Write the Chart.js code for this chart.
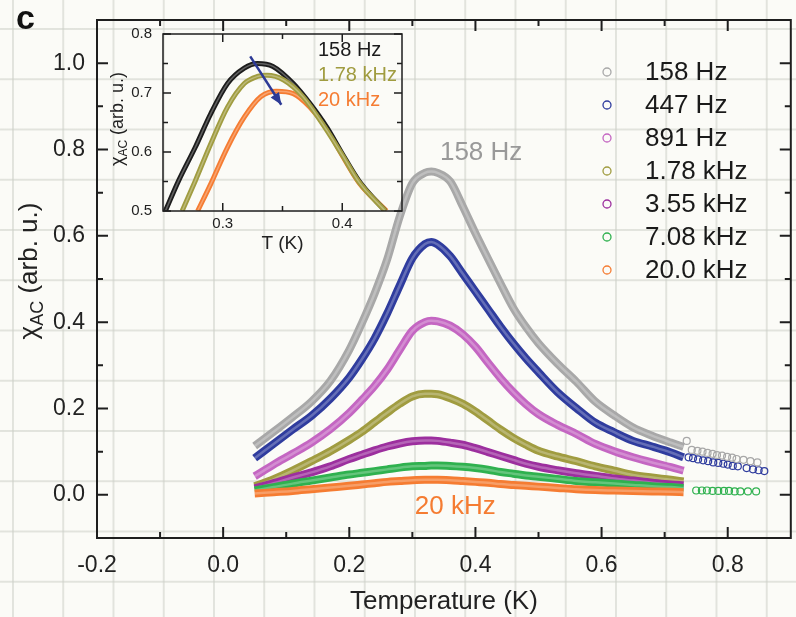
<!DOCTYPE html>
<html>
<head>
<meta charset="utf-8">
<script src="https://cdn.jsdelivr.net/npm/chart.js@4.4.0/dist/chart.umd.min.js"></script>
<style>
  html, body { margin: 0; padding: 0; }
  body {
    width: 796px; height: 617px; position: relative; overflow: hidden;
    background-color: #fbfbf7;
    background-image:
      linear-gradient(to right, rgba(205,208,200,0.55) 2px, transparent 2px),
      linear-gradient(to bottom, rgba(205,208,200,0.55) 2px, transparent 2px);
    background-size: 50.25px 50.25px;
    background-position: 12px 28px;
  }
  #main { position: absolute; left: 0; top: 0; }
  #inset { position: absolute; left: 100px; top: 24px; }
</style>
</head>
<body>
<canvas id="main" width="796" height="617"></canvas>
<canvas id="inset" width="310" height="240"></canvas>
<script>
// ================= DATA =================
// Main panel: temperature grid (K) shared by the dense sweeps
const temps = [0.05, 0.08, 0.11, 0.14, 0.17, 0.20, 0.22, 0.24, 0.26, 0.28, 0.30, 0.32, 0.33, 0.34, 0.36,
               0.38, 0.40, 0.42, 0.44, 0.46, 0.48, 0.50, 0.53, 0.56, 0.59, 0.62, 0.65, 0.68, 0.71, 0.73];

const chi158  = [0.113, 0.146, 0.180, 0.216, 0.264, 0.336, 0.398, 0.466, 0.545, 0.645, 0.722, 0.746, 0.749, 0.746, 0.726,
                 0.668, 0.606, 0.547, 0.489, 0.433, 0.389, 0.351, 0.304, 0.262, 0.216, 0.184, 0.156, 0.137, 0.121, 0.111];
const chi447  = [0.085, 0.118, 0.151, 0.183, 0.223, 0.272, 0.314, 0.362, 0.420, 0.485, 0.548, 0.581, 0.586, 0.580, 0.553,
                 0.512, 0.471, 0.430, 0.389, 0.351, 0.316, 0.284, 0.238, 0.201, 0.167, 0.145, 0.125, 0.112, 0.098, 0.087];
const chi891  = [0.043, 0.070, 0.095, 0.121, 0.152, 0.190, 0.220, 0.252, 0.290, 0.336, 0.380, 0.400, 0.403, 0.402, 0.392,
                 0.372, 0.343, 0.306, 0.270, 0.238, 0.210, 0.187, 0.162, 0.141, 0.118, 0.101, 0.087, 0.075, 0.064, 0.056];
const chi1780 = [0.020, 0.036, 0.056, 0.078, 0.101, 0.127, 0.146, 0.168, 0.190, 0.211, 0.228, 0.234, 0.234, 0.233, 0.224,
                 0.211, 0.193, 0.172, 0.151, 0.132, 0.116, 0.102, 0.089, 0.078, 0.066, 0.056, 0.046, 0.040, 0.035, 0.031];
const chi3550 = [0.015, 0.027, 0.040, 0.052, 0.066, 0.083, 0.093, 0.103, 0.112, 0.119, 0.124, 0.126, 0.126, 0.125, 0.121,
                 0.116, 0.108, 0.099, 0.090, 0.081, 0.072, 0.065, 0.057, 0.050, 0.044, 0.038, 0.033, 0.028, 0.024, 0.022];
const chi7080 = [0.010, 0.018, 0.026, 0.033, 0.040, 0.047, 0.051, 0.055, 0.059, 0.063, 0.066, 0.067, 0.068, 0.068, 0.067,
                 0.065, 0.062, 0.058, 0.053, 0.049, 0.045, 0.042, 0.037, 0.032, 0.029, 0.026, 0.023, 0.020, 0.018, 0.016];
const chi20k  = [0.003, 0.006, 0.009, 0.013, 0.017, 0.021, 0.024, 0.027, 0.030, 0.032, 0.034, 0.035, 0.035, 0.035, 0.034,
                 0.032, 0.030, 0.028, 0.025, 0.023, 0.021, 0.019, 0.016, 0.013, 0.011, 0.010, 0.009, 0.008, 0.007, 0.006];

// Sparse high-temperature points
const tail158T = [0.735, 0.743, 0.752, 0.760, 0.768, 0.776, 0.783, 0.791, 0.799, 0.807, 0.814, 0.825, 0.836, 0.847];
const tail158  = [0.125, 0.104, 0.102, 0.100, 0.097, 0.095, 0.092, 0.091, 0.088, 0.086, 0.083, 0.081, 0.078, 0.075];
const tail447T = [0.738, 0.745, 0.753, 0.761, 0.769, 0.777, 0.785, 0.793, 0.800, 0.808, 0.816, 0.830, 0.840, 0.849, 0.858];
const tail447  = [0.087, 0.085, 0.082, 0.080, 0.078, 0.075, 0.074, 0.072, 0.070, 0.067, 0.066, 0.062, 0.059, 0.057, 0.055];
const tail7080T = [0.750, 0.759, 0.767, 0.776, 0.785, 0.794, 0.802, 0.811, 0.820, 0.832, 0.845];
const tail7080  = [0.010, 0.010, 0.010, 0.009, 0.009, 0.009, 0.009, 0.008, 0.008, 0.008, 0.008];

const seriesLabels = ['158 Hz', '447 Hz', '891 Hz', '1.78 kHz', '3.55 kHz', '7.08 kHz', '20.0 kHz'];
const seriesValues = [chi158, chi447, chi891, chi1780, chi3550, chi7080, chi20k];

// Main axis ticks
const xMajorTicks = [-0.2, 0.0, 0.2, 0.4, 0.6, 0.8];
const xMinorTicks = [-0.1, 0.1, 0.3, 0.5, 0.7];
const yMajorTicks = [0.0, 0.2, 0.4, 0.6, 0.8, 1.0];
const yMinorTicks = [0.1, 0.3, 0.5, 0.7, 0.9];

// Inset panel (zoom on the peaks)
const insetT158  = [0.252, 0.263, 0.277, 0.290, 0.304, 0.318, 0.329, 0.342, 0.359, 0.373, 0.387, 0.400, 0.414, 0.436];
const insetV158  = [0.500, 0.551, 0.608, 0.665, 0.716, 0.742, 0.750, 0.745, 0.716, 0.682, 0.642, 0.597, 0.551, 0.500];
const insetT1780 = [0.266, 0.277, 0.290, 0.304, 0.318, 0.329, 0.337, 0.351, 0.367, 0.386, 0.400, 0.414, 0.436];
const insetV1780 = [0.500, 0.551, 0.614, 0.676, 0.716, 0.728, 0.730, 0.722, 0.694, 0.640, 0.595, 0.549, 0.500];
const insetT20k  = [0.279, 0.290, 0.304, 0.318, 0.332, 0.345, 0.359, 0.373, 0.387, 0.400, 0.414, 0.437];
const insetV20k  = [0.500, 0.546, 0.608, 0.659, 0.694, 0.703, 0.699, 0.676, 0.640, 0.594, 0.548, 0.500];
const insetLabels = ['158 Hz', '1.78 kHz', '20 kHz'];
const arrowT = [0.323, 0.349];
const arrowV = [0.762, 0.680];

const insetXMajor = [0.3, 0.4];
const insetXMinor = [0.35];
const insetYMajor = [0.5, 0.6, 0.7, 0.8];
const insetYMinor = [0.55, 0.65, 0.75];

// ================= STYLE =================
const FONT = "'Liberation Sans', Arial, Helvetica, sans-serif";
Chart.defaults.font.family = FONT;
Chart.defaults.color = '#222';
const seriesColors = ['#a8a8a8', '#2f3c9e', '#c466c2', '#a09c40', '#9c2f9e', '#2fb14f', '#f57c32'];
const insetColors = ['#1c1c1c', '#a09c40', '#f57c32'];
const arrowColor = '#2d3a96';

const toXY = (xs, ys) => xs.map((x, i) => ({ x: x, y: ys[i] }));
const noPad = s => { s.paddingTop = 0; s.paddingBottom = 0; s.paddingLeft = 0; s.paddingRight = 0; };

// ================= PLUGINS =================
// lighter core stroke to imitate bands of overlapping open circles
const hollowBand = {
  id: 'hollowBand',
  afterDatasetDraw(chart, args) {
    const ds = chart.data.datasets[args.index];
    if (!ds.hollow) return;
    const el = args.meta.dataset;
    if (!el) return;
    const saved = el.options;
    el.options = Object.assign({}, saved, { borderColor: ds.hollow, borderWidth: ds.hollowWidth });
    const ctx = chart.ctx;
    ctx.save();
    el.draw(ctx, chart.chartArea);
    ctx.restore();
    el.options = saved;
  }
};

const decor = {
  id: 'decor',
  afterDraw(chart, args, o) {
    const ctx = chart.ctx;
    const { left, right, top, bottom } = chart.chartArea;
    const xs = chart.scales.x, ys = chart.scales.y;
    ctx.save();
    ctx.strokeStyle = '#1e1e1e';
    ctx.lineWidth = o.frameWidth;
    ctx.strokeRect(left, top, right - left, bottom - top);
    ctx.lineWidth = o.tickWidth;
    ctx.beginPath();
    const tx = (v, len) => { const p = xs.getPixelForValue(v); ctx.moveTo(p, bottom); ctx.lineTo(p, bottom - len); ctx.moveTo(p, top); ctx.lineTo(p, top + len); };
    const ty = (v, len) => { const p = ys.getPixelForValue(v); ctx.moveTo(left, p); ctx.lineTo(left + len, p); ctx.moveTo(right, p); ctx.lineTo(right - len, p); };
    o.xMajor.forEach(v => tx(v, o.majorLen)); o.xMinor.forEach(v => tx(v, o.minorLen));
    o.yMajor.forEach(v => ty(v, o.majorLen)); o.yMinor.forEach(v => ty(v, o.minorLen));
    ctx.stroke();

    // y-axis title with subscript
    ctx.translate(o.yTitleX, o.yTitleY);
    ctx.rotate(-Math.PI / 2);
    ctx.fillStyle = '#222';
    ctx.textBaseline = 'middle';
    const big = o.yTitleSize + 'px ' + FONT, small = Math.round(o.yTitleSize * 0.68) + 'px ' + FONT;
    ctx.font = big; const w1 = ctx.measureText('\u03c7').width; const w3 = ctx.measureText(' (arb. u.)').width;
    ctx.font = small; const w2 = ctx.measureText('AC').width;
    const x0 = -(w1 + w2 + w3) / 2;
    ctx.font = big; ctx.textAlign = 'left'; ctx.fillText('\u03c7', x0, 0);
    ctx.font = small; ctx.fillText('AC', x0 + w1, o.yTitleSize * 0.3);
    ctx.font = big; ctx.fillText(' (arb. u.)', x0 + w1 + w2, 0);
    ctx.restore();

    if (o.legend) {
      ctx.save();
      ctx.font = o.legend.size + 'px ' + FONT;
      ctx.textBaseline = 'middle';
      ctx.textAlign = 'left';
      let i = 0;
      chart.data.datasets.forEach(ds => {
        if (!ds.inLegend) return;
        const cy = top + o.legend.dy + i * o.legend.row;
        ctx.beginPath();
        ctx.strokeStyle = ds.borderColor; ctx.lineWidth = 1.3;
        ctx.arc(left + o.legend.dxSym, cy, 4, 0, Math.PI * 2);
        ctx.stroke();
        ctx.fillStyle = '#1a1a1a';
        ctx.fillText(ds.label, left + o.legend.dxText, cy + 1);
        i++;
      });
      ctx.restore();
    }
    if (o.notes) {
      ctx.save();
      ctx.textAlign = 'center'; ctx.textBaseline = 'middle';
      o.notes.forEach(n => {
        ctx.font = n.size + 'px ' + FONT;
        ctx.fillStyle = n.color;
        ctx.fillText(n.text, xs.getPixelForValue(n.x), ys.getPixelForValue(n.y));
      });
      ctx.restore();
    }
    if (o.insetLegend) {
      ctx.save();
      ctx.font = o.insetLegend.size + 'px ' + FONT;
      ctx.textBaseline = 'middle'; ctx.textAlign = 'left';
      let i = 0;
      chart.data.datasets.forEach(ds => {
        if (!ds.inLegend) return;
        ctx.fillStyle = ds.borderColor;
        ctx.fillText(ds.label, left + o.insetLegend.dx, top + o.insetLegend.dy + i * o.insetLegend.row);
        i++;
      });
      ctx.restore();
    }
    if (o.panel) {
      ctx.save();
      ctx.font = 'bold ' + o.panel.size + 'px ' + FONT;
      ctx.fillStyle = '#111'; ctx.textBaseline = 'alphabetic'; ctx.textAlign = 'left';
      ctx.fillText(o.panel.text, o.panel.x, o.panel.y);
      ctx.restore();
    }
  }
};

const arrowHead = {
  id: 'arrowHead',
  afterDatasetsDraw(chart) {
    const idx = chart.data.datasets.findIndex(d => d.isArrow);
    if (idx < 0) return;
    const pts = chart.getDatasetMeta(idx).data;
    const a = pts[pts.length - 2], b = pts[pts.length - 1];
    const ang = Math.atan2(b.y - a.y, b.x - a.x);
    const L = 12, W = 5;
    const ctx = chart.ctx;
    ctx.save();
    ctx.fillStyle = arrowColor;
    ctx.beginPath();
    ctx.moveTo(b.x, b.y);
    ctx.lineTo(b.x - L * Math.cos(ang) + W * Math.sin(ang), b.y - L * Math.sin(ang) - W * Math.cos(ang));
    ctx.lineTo(b.x - L * Math.cos(ang) - W * Math.sin(ang), b.y - L * Math.sin(ang) + W * Math.cos(ang));
    ctx.closePath();
    ctx.fill();
    ctx.restore();
  }
};

// ================= MAIN CHART =================
const mainDatasets = seriesValues.map((vals, i) => ({
  label: seriesLabels[i],
  inLegend: true,
  data: toXY(temps, vals),
  borderColor: seriesColors[i],
  backgroundColor: seriesColors[i],
  borderWidth: 8,
  hollow: 'rgba(255,255,255,0.26)',
  hollowWidth: 2.5,
  pointRadius: 0,
  cubicInterpolationMode: 'monotone',
  fill: false,
  order: 7 - i
}));
const tailSet = (xs, ys, color) => ({
  label: '', inLegend: false,
  data: toXY(xs, ys),
  showLine: false,
  pointRadius: 3.5,
  pointBorderWidth: 1.2,
  pointBorderColor: color,
  pointBackgroundColor: 'rgba(255,255,255,0)',
  borderColor: color,
  order: 0
});
mainDatasets.push(tailSet(tail158T, tail158, seriesColors[0]));
mainDatasets.push(tailSet(tail447T, tail447, seriesColors[1]));
mainDatasets.push(tailSet(tail7080T, tail7080, seriesColors[5]));

new Chart(document.getElementById('main'), {
  type: 'line',
  data: { datasets: mainDatasets },
  options: {
    responsive: false, animation: false, devicePixelRatio: 1,
    layout: { padding: { top: 20, right: 1, left: 0, bottom: 0 } },
    plugins: {
      legend: { display: false }, tooltip: { enabled: false },
      decor: {
        frameWidth: 2, tickWidth: 2, majorLen: 11, minorLen: 6,
        xMajor: xMajorTicks, xMinor: xMinorTicks, yMajor: yMajorTicks, yMinor: yMinorTicks,
        yTitleX: 30, yTitleY: 271, yTitleSize: 26,
        legend: { size: 26, dxSym: 510, dxText: 548, dy: 52, row: 33 },
        notes: [
          { text: '158 Hz', x: 0.409, y: 0.793, size: 26, color: '#999999' },
          { text: '20 kHz', x: 0.368, y: -0.028, size: 26, color: '#f57c32' }
        ],
        panel: { text: 'c', x: 16, y: 29, size: 34 }
      }
    },
    scales: {
      x: {
        type: 'linear', min: -0.2, max: 0.9,
        grid: { display: false, drawTicks: false }, border: { display: false },
        afterBuildTicks: s => { s.ticks = xMajorTicks.map(v => ({ value: v })); },
        afterFit: s => { s.height = 79; noPad(s); },
        ticks: { padding: 14, font: { size: 23 }, color: '#222', maxRotation: 0, autoSkip: false,
                 callback: v => Number(v).toFixed(1) },
        title: { display: true, text: 'Temperature (K)', font: { size: 26 }, color: '#222', padding: { top: 0, bottom: 0 } }
      },
      y: {
        type: 'linear', min: -0.1, max: 1.1,
        grid: { display: false, drawTicks: false }, border: { display: false },
        afterBuildTicks: s => { s.ticks = yMajorTicks.map(v => ({ value: v })); },
        afterFit: s => { s.width = 97; noPad(s); },
        ticks: { padding: 12, font: { size: 23 }, color: '#222', autoSkip: false,
                 callback: v => Number(v).toFixed(1) }
      }
    }
  },
  plugins: [hollowBand, decor]
});

// ================= INSET CHART =================
const insetDatasets = [
  { label: insetLabels[0], inLegend: true, data: toXY(insetT158, insetV158), borderColor: insetColors[0], order: 2 },
  { label: insetLabels[1], inLegend: true, data: toXY(insetT1780, insetV1780), borderColor: insetColors[1], order: 1 },
  { label: insetLabels[2], inLegend: true, data: toXY(insetT20k, insetV20k), borderColor: insetColors[2], order: 3 }
].map(d => Object.assign(d, { borderWidth: 5, hollow: 'rgba(255,255,255,0.3)', hollowWidth: 1.5,
                              pointRadius: 0, cubicInterpolationMode: 'monotone', fill: false }));
insetDatasets.push({ label: '', inLegend: false, isArrow: true, data: toXY(arrowT, arrowV),
  borderColor: arrowColor, borderWidth: 2.5, pointRadius: 0, order: 0 });

new Chart(document.getElementById('inset'), {
  type: 'line',
  data: { datasets: insetDatasets },
  options: {
    responsive: false, animation: false, devicePixelRatio: 1,
    layout: { padding: { top: 10, right: 8, left: 0, bottom: 0 } },
    plugins: {
      legend: { display: false }, tooltip: { enabled: false },
      decor: {
        frameWidth: 1.5, tickWidth: 1.5, majorLen: 8, minorLen: 5,
        xMajor: insetXMajor, xMinor: insetXMinor, yMajor: insetYMajor, yMinor: insetYMinor,
        yTitleX: 18, yTitleY: 95, yTitleSize: 18,
        insetLegend: { size: 20, dx: 155, dy: 16, row: 25 }
      }
    },
    scales: {
      x: {
        type: 'linear', min: 0.25, max: 0.45,
        grid: { display: false, drawTicks: false }, border: { display: false },
        afterBuildTicks: s => { s.ticks = insetXMajor.map(v => ({ value: v })); },
        afterFit: s => { s.height = 53; noPad(s); },
        ticks: { padding: 4, font: { size: 15 }, color: '#222', maxRotation: 0, autoSkip: false,
                 callback: v => Number(v).toFixed(1) },
        title: { display: true, text: 'T (K)', font: { size: 19 }, color: '#222', padding: { top: 0, bottom: 9 } }
      },
      y: {
        type: 'linear', min: 0.5, max: 0.8,
        grid: { display: false, drawTicks: false }, border: { display: false },
        afterBuildTicks: s => { s.ticks = insetYMajor.map(v => ({ value: v })); },
        afterFit: s => { s.width = 63; noPad(s); },
        ticks: { padding: 11, font: { size: 15 }, color: '#222', autoSkip: false,
                 callback: v => Number(v).toFixed(1) }
      }
    }
  },
  plugins: [hollowBand, decor, arrowHead]
});
</script>
</body>
</html>
